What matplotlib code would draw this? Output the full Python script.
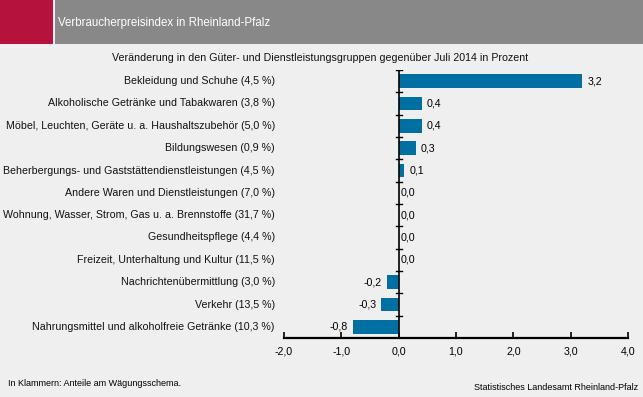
import matplotlib
matplotlib.use("Agg")
import matplotlib.pyplot as plt
from matplotlib.patches import Rectangle

plt.rcParams['font.family'] = ['Liberation Sans', 'DejaVu Sans']

categories = [
    "Bekleidung und Schuhe (4,5 %)",
    "Alkoholische Getränke und Tabakwaren (3,8 %)",
    "Möbel, Leuchten, Geräte u. a. Haushaltszubehör (5,0 %)",
    "Bildungswesen (0,9 %)",
    "Beherbergungs- und Gaststättendienstleistungen (4,5 %)",
    "Andere Waren und Dienstleistungen (7,0 %)",
    "Wohnung, Wasser, Strom, Gas u. a. Brennstoffe (31,7 %)",
    "Gesundheitspflege (4,4 %)",
    "Freizeit, Unterhaltung und Kultur (11,5 %)",
    "Nachrichtenübermittlung (3,0 %)",
    "Verkehr (13,5 %)",
    "Nahrungsmittel und alkoholfreie Getränke (10,3 %)",
]
values = [3.2, 0.4, 0.4, 0.3, 0.1, 0.0, 0.0, 0.0, 0.0, -0.2, -0.3, -0.8]
xticks = [-2.0, -1.0, 0.0, 1.0, 2.0, 3.0, 4.0]

W, H = 643, 397
bg = "#eeefee"
fs = 7.7
fig = plt.figure(figsize=(W / 100, H / 100), dpi=100, facecolor=bg)

# header
fig.patches.append(Rectangle((0, 1 - 44 / H), 53 / W, 44 / H, transform=fig.transFigure,
                             facecolor="#b5123e", edgecolor="none"))
fig.patches.append(Rectangle((55 / W, 1 - 44 / H), 1 - 55 / W, 44 / H, transform=fig.transFigure,
                             facecolor="#888888", edgecolor="none"))
fig.text(58 / W, 1 - 23 / H, "Verbraucherpreisindex in Rheinland-Pfalz", color="white",
         fontsize=8.3, va="center", ha="left")
fig.text(320 / W, 1 - 58 / H,
         "Veränderung in den Güter- und Dienstleistungsgruppen gegenüber Juli 2014 in Prozent",
         fontsize=fs, ha="center", va="center", color="#111111")

ax = fig.add_axes([284 / W, 1 - 338 / H, (628 - 284) / W, (338 - 70) / H])
ax.set_facecolor(bg)
n = len(categories)
ypos = list(range(n))
ax.barh(ypos, values, height=0.62, color="#0070a3", zorder=2)
ax.set_xlim(-2, 4)
ax.set_ylim(n - 0.5, -0.5)
ax.set_xticks(xticks)
ax.set_xticklabels([f"{t:.1f}".replace(".", ",") for t in xticks], fontsize=fs)
ax.tick_params(axis="x", direction="in", length=4, width=1.2, pad=6)
ax.set_yticks([])
for s in ["top", "right", "left"]:
    ax.spines[s].set_visible(False)
ax.spines["bottom"].set_linewidth(1.6)

# y axis at zero with ticks at category boundaries
ax.axvline(0, color="black", lw=1.2, zorder=3)
for b in range(n):
    y = b - 0.5
    ax.plot([-0.05, 0.05], [y, y], color="black", lw=1.0, zorder=3)

for i, (c, v) in enumerate(zip(categories, values)):
    ax.text(-2.16, i, c, ha="right", va="center", fontsize=fs, color="#111111")
    lab = f"{v:.1f}".replace(".", ",")
    if v > 0:
        ax.text(v + 0.09, i, lab, ha="left", va="center", fontsize=fs)
    elif v == 0:
        ax.text(0.04, i, lab, ha="left", va="center", fontsize=fs)
    else:
        ax.text(v - 0.09, i, lab, ha="right", va="center", fontsize=fs)

fig.text(8 / W, 1 - 384 / H, "In Klammern: Anteile am Wägungsschema.", fontsize=6.5,
         ha="left", va="center")
fig.text(638 / W, 1 - 388 / H, "Statistisches Landesamt Rheinland-Pfalz", fontsize=6.5,
         ha="right", va="center")

fig.savefig("out.png", dpi=100, facecolor=bg)
